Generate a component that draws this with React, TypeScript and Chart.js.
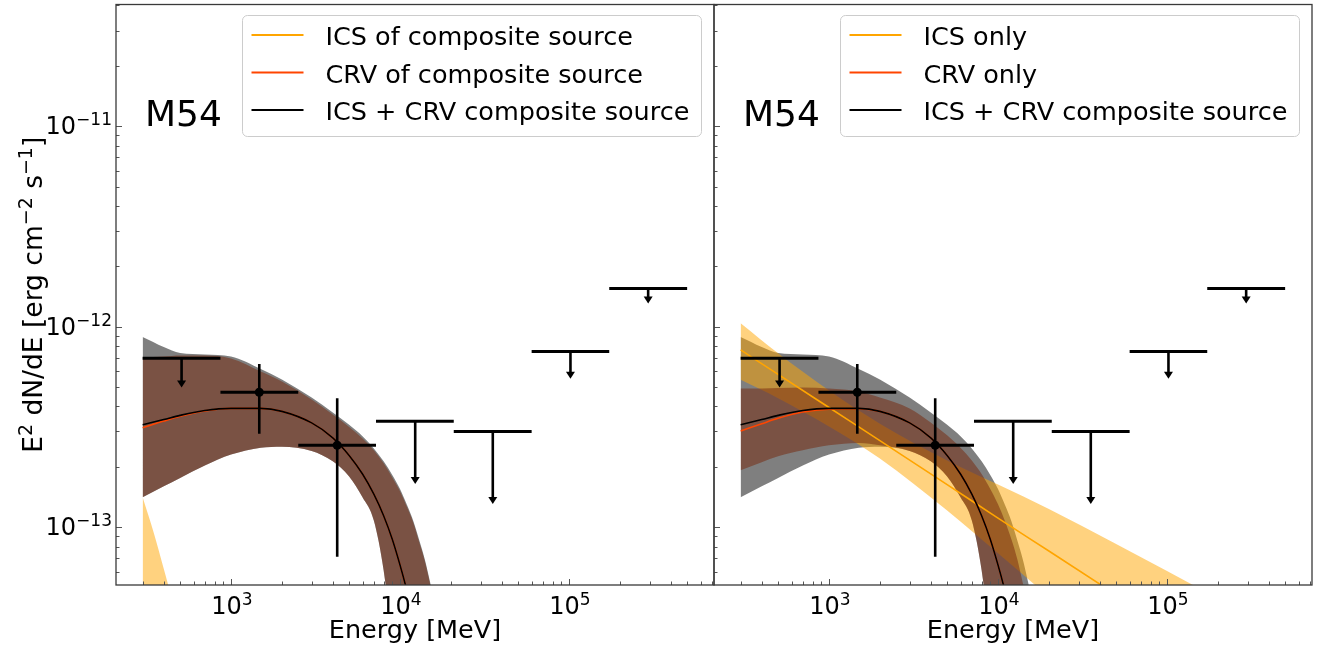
import React, { useEffect, useRef } from "react";
import { Chart, registerables } from "chart.js";

Chart.register(...registerables);

// ---------------- data ----------------
// energies (MeV) at which the CRV / composite model curves were read
const curveEnergy = [300, 400, 500, 700, 1000, 1500, 2000, 3000, 4000, 5000, 6000, 7000, 8000, 9000, 10000, 11000, 12000, 13000, 14000, 15000, 16000];

// ICS + CRV composite source (black line + grey band), same in both panels
const totalModel = [3.24e-13, 3.44e-13, 3.61e-13, 3.82e-13, 3.91e-13, 3.91e-13, 3.78e-13, 3.31e-13, 2.79e-13, 2.28e-13, 1.84e-13, 1.46e-13, 1.14e-13, 8.7e-14, 6.47e-14, 4.8e-14, 3.5e-14, 2.6e-14, 1.9e-14, 1.4e-14, 1.0e-14];
const totalUpper = [8.87e-13, 7.91e-13, 7.38e-13, 7.26e-13, 7.1e-13, 6.15e-13, 5.45e-13, 4.43e-13, 3.73e-13, 3.24e-13, 2.84e-13, 2.47e-13, 2.13e-13, 1.82e-13, 1.55e-13, 1.29e-13, 1.07e-13, 8.6e-14, 6.93e-14, 5.4e-14, 4.2e-14];
const totalLower = [1.41e-13, 1.6e-13, 1.76e-13, 2.03e-13, 2.3e-13, 2.49e-13, 2.52e-13, 2.4e-13, 2.13e-13, 1.79e-13, 1.41e-13, 1.08e-13, 6.1e-14, 2.7e-14, 1.2e-14, 6e-15, 3e-15, 1.5e-15, 8e-16, 4e-16, 2e-16];

// CRV of composite source (left panel)
const crvCompModel = [3.13e-13, 3.38e-13, 3.57e-13, 3.8e-13, 3.91e-13, 3.91e-13, 3.78e-13, 3.31e-13, 2.79e-13, 2.28e-13, 1.84e-13, 1.46e-13, 1.14e-13, 8.7e-14, 6.47e-14, 4.8e-14, 3.5e-14, 2.6e-14, 1.9e-14, 1.4e-14, 1.0e-14];
const crvCompUpper = [7.01e-13, 7.09e-13, 7.17e-13, 7.17e-13, 6.93e-13, 5.97e-13, 5.33e-13, 4.33e-13, 3.65e-13, 3.16e-13, 2.77e-13, 2.42e-13, 2.08e-13, 1.77e-13, 1.51e-13, 1.26e-13, 1.05e-13, 8.4e-14, 6.8e-14, 5.3e-14, 4.1e-14];
const crvCompLower = [1.41e-13, 1.6e-13, 1.76e-13, 2.03e-13, 2.3e-13, 2.49e-13, 2.52e-13, 2.4e-13, 2.13e-13, 1.79e-13, 1.41e-13, 1.08e-13, 6.1e-14, 2.7e-14, 1.2e-14, 6e-15, 3e-15, 1.5e-15, 8e-16, 4e-16, 2e-16];

// ICS of composite source (left panel, only the low-energy tail is visible)
const icsCompEnergy = [300, 350, 400, 450, 500];
const icsCompModel = [4.0e-14, 2.5e-14, 1.6e-14, 1.05e-14, 7e-15];
const icsCompUpper = [1.41e-13, 9.3e-14, 6.2e-14, 4.3e-14, 3.1e-14];
const icsCompLower = [1.2e-14, 6.5e-15, 3.8e-15, 2.3e-15, 1.5e-15];

// CRV only (right panel)
const crvOnlyModel = [3.02e-13, 3.28e-13, 3.49e-13, 3.75e-13, 3.88e-13, 3.9e-13, 3.78e-13, 3.31e-13, 2.79e-13, 2.28e-13, 1.84e-13, 1.46e-13, 1.14e-13, 8.7e-14, 6.47e-14, 4.8e-14, 3.5e-14, 2.6e-14, 1.9e-14, 1.4e-14, 1.0e-14];
const crvOnlyUpper = [4.91e-13, 4.91e-13, 4.94e-13, 4.97e-13, 4.91e-13, 4.75e-13, 4.43e-13, 3.91e-13, 3.33e-13, 2.87e-13, 2.49e-13, 2.15e-13, 1.84e-13, 1.55e-13, 1.3e-13, 1.07e-13, 8.7e-14, 6.93e-14, 5.3e-14, 4.2e-14, 3.3e-14];
const crvOnlyLower = [1.92e-13, 2.11e-13, 2.26e-13, 2.42e-13, 2.56e-13, 2.63e-13, 2.56e-13, 2.4e-13, 2.13e-13, 1.79e-13, 1.41e-13, 1.08e-13, 6.1e-14, 2.7e-14, 1.2e-14, 6e-15, 3e-15, 1.5e-15, 8e-16, 4e-16, 2e-16];

// ICS only (right panel)
const icsOnlyEnergy = [300, 500, 1000, 2000, 5000, 10000, 20000, 50000, 100000, 200000, 500000];
const icsOnlyModel = [7.66e-13, 5.78e-13, 3.95e-13, 2.7e-13, 1.63e-13, 1.11e-13, 7.6e-14, 4.6e-14, 3.14e-14, 2.14e-14, 1.3e-14];
const icsOnlyUpper = [1.04e-12, 7.36e-13, 4.8e-13, 3.28e-13, 2.15e-13, 1.63e-13, 1.23e-13, 8.25e-14, 6.04e-14, 4.41e-14, 2.9e-14];
const icsOnlyLower = [5.43e-13, 4.4e-13, 3.18e-13, 2.2e-13, 1.21e-13, 7.4e-14, 4.5e-14, 2.4e-14, 1.55e-14, 9.8e-15, 5.5e-15];

// Fermi-LAT SED bins
const binLow = [300, 866, 2500, 7210, 20800, 60100, 173000];
const binHigh = [866, 2500, 7210, 20800, 60100, 173000, 500000];
const binCenter = [510, 1470, 4250, 12300, 35400, 102000, 294000];
const fluxValue = [6.96e-13, 4.71e-13, 2.56e-13, 3.37e-13, 3.0e-13, 7.51e-13, 1.55e-12];
const fluxLow = [5.03e-13, 2.92e-13, 7.12e-14, 1.66e-13, 1.32e-13, 5.56e-13, 1.32e-12];
const fluxHigh = [6.96e-13, 6.52e-13, 4.4e-13, 3.37e-13, 3.0e-13, 7.51e-13, 1.55e-12];
const isUpperLimit = [true, false, false, true, true, true, true];

// axes
const xRange = [208.7, 721000];
const yRange = [5.145e-14, 4.045e-11];
const xTickValues = [1e3, 1e4, 1e5];
const xTickExponents = ["3", "4", "5"];
const yTickValues = [1e-11, 1e-12, 1e-13];
const yTickExponents = ["\u221211", "\u221212", "\u221213"];

const sourceName = "M54";
const legendLeft = ["ICS of composite source", "CRV of composite source", "ICS + CRV composite source"];
const legendRight = ["ICS only", "CRV only", "ICS + CRV composite source"];

// ---------------- styling ----------------
const W = 1322;
const H = 650;
const FONT = '"DejaVu Sans", sans-serif';
const C_ICS = "#ffa500";
const C_CRV = "#ff4500";
const C_TOT = "#000000";
const F_TOT = "rgba(0,0,0,0.5)";
const F_ICS = "rgba(255,165,0,0.5)";
const F_CRV = "rgba(118,38,10,0.5)";

type Panel = {
  key: string;
  padLeft: number;
  padRight: number;
  yLabels: boolean;
  legend: string[];
  icsE: number[];
  icsM: number[];
  icsU: number[];
  icsL: number[];
  crvM: number[];
  crvU: number[];
  crvL: number[];
};

const pts = (xs: number[], ys: number[]) => xs.map((x, i) => ({ x, y: ys[i] }));

function bandPair(xs: number[], hi: number[], lo: number[], color: string, order: number) {
  const common = {
    borderColor: "rgba(0,0,0,0)",
    borderWidth: 0,
    pointRadius: 0,
    pointHoverRadius: 0,
    order,
    cubicInterpolationMode: "monotone",
    clip: 0,
  };
  return [
    { ...common, data: pts(xs, hi), fill: "+1", backgroundColor: color },
    { ...common, data: pts(xs, lo), fill: false, backgroundColor: color },
  ];
}

function lineDs(xs: number[], ys: number[], color: string, order: number) {
  return {
    data: pts(xs, ys),
    borderColor: color,
    borderWidth: 1.6,
    pointRadius: 0,
    pointHoverRadius: 0,
    fill: false,
    order,
    cubicInterpolationMode: "monotone",
    clip: 0,
  };
}

function drawRich(ctx: CanvasRenderingContext2D, parts: [string, boolean][], x: number, y: number, size: number, measureOnly = false) {
  let cx = x;
  for (const [t, sup] of parts) {
    ctx.font = `${sup ? Math.round(size * 0.7) : size}px ${FONT}`;
    if (!measureOnly) ctx.fillText(t, cx, sup ? y - size * 0.38 : y);
    cx += ctx.measureText(t).width;
  }
  return cx - x;
}

function decorPlugin(p: Panel) {
  return {
    id: "decor" + p.key,
    afterDatasetsDraw(chart: any) {
      const ctx: CanvasRenderingContext2D = chart.ctx;
      const xs = chart.scales.x;
      const ys = chart.scales.y;
      const a = chart.chartArea;
      ctx.save();
      ctx.beginPath();
      ctx.rect(a.left, a.top, a.right - a.left, a.bottom - a.top);
      ctx.clip();
      ctx.strokeStyle = "#000";
      ctx.fillStyle = "#000";
      ctx.lineCap = "butt";
      for (let i = 0; i < binCenter.length; i++) {
        const xl = xs.getPixelForValue(binLow[i]);
        const xh = xs.getPixelForValue(binHigh[i]);
        const xc = xs.getPixelForValue(binCenter[i]);
        const y = ys.getPixelForValue(fluxValue[i]);
        ctx.lineWidth = 3;
        ctx.beginPath();
        ctx.moveTo(xl, y);
        ctx.lineTo(xh, y);
        ctx.stroke();
        if (isUpperLimit[i]) {
          const yt = ys.getPixelForValue(fluxLow[i]);
          ctx.lineWidth = 2.6;
          ctx.beginPath();
          ctx.moveTo(xc, y);
          ctx.lineTo(xc, yt - 4);
          ctx.stroke();
          ctx.beginPath();
          ctx.moveTo(xc - 4.5, yt - 6);
          ctx.lineTo(xc + 4.5, yt - 6);
          ctx.lineTo(xc, yt + 1);
          ctx.closePath();
          ctx.fill();
        } else {
          const y1 = ys.getPixelForValue(fluxHigh[i]);
          const y2 = ys.getPixelForValue(fluxLow[i]);
          ctx.lineWidth = 2.6;
          ctx.beginPath();
          ctx.moveTo(xc, y1);
          ctx.lineTo(xc, y2);
          ctx.stroke();
        }
      }
      ctx.restore();
    },
    afterDraw(chart: any) {
      const ctx: CanvasRenderingContext2D = chart.ctx;
      const xs = chart.scales.x;
      const ys = chart.scales.y;
      const a = chart.chartArea;
      ctx.save();
      // ticks (inward)
      ctx.strokeStyle = "#555";
      ctx.lineWidth = 1;
      for (let n = 2; n <= 6; n++) {
        for (let k = 1; k <= 9; k++) {
          const v = k * Math.pow(10, n);
          if (v < xRange[0] || v > xRange[1]) continue;
          const px = Math.round(xs.getPixelForValue(v)) + 0.5;
          const len = k === 1 ? 6 : 3.5;
          ctx.beginPath();
          ctx.moveTo(px, a.bottom);
          ctx.lineTo(px, a.bottom - len);
          ctx.stroke();
        }
      }
      for (let n = -14; n <= -11; n++) {
        for (let k = 1; k <= 9; k++) {
          const v = k * Math.pow(10, n);
          if (v < yRange[0] || v > yRange[1]) continue;
          const py = Math.round(ys.getPixelForValue(v)) + 0.5;
          const len = k === 1 ? 6 : 3.5;
          ctx.beginPath();
          ctx.moveTo(a.left, py);
          ctx.lineTo(a.left + len, py);
          ctx.stroke();
        }
      }
      // frame
      ctx.strokeStyle = "#3a3a3a";
      ctx.lineWidth = 1.3;
      ctx.strokeRect(a.left, a.top, a.right - a.left, a.bottom - a.top);

      ctx.fillStyle = "#000";
      ctx.textBaseline = "alphabetic";
      ctx.textAlign = "left";
      // x tick labels
      xTickValues.forEach((v, i) => {
        const px = xs.getPixelForValue(v);
        const parts: [string, boolean][] = [["10", false], [xTickExponents[i], true]];
        const w = drawRich(ctx, parts, 0, 0, 24, true);
        drawRich(ctx, parts, px - w / 2 + 1, 614, 24);
      });
      // y tick labels
      if (p.yLabels) {
        yTickValues.forEach((v, i) => {
          const py = ys.getPixelForValue(v);
          const parts: [string, boolean][] = [["10", false], [yTickExponents[i], true]];
          const w = drawRich(ctx, parts, 0, 0, 24, true);
          drawRich(ctx, parts, a.left - 4 - w, py + 8, 24);
        });
        // y axis title
        const tparts: [string, boolean][] = [
          ["E", false], ["2", true], [" dN/dE [erg cm", false], ["\u22122", true], [" s", false], ["\u22121", true], ["]", false],
        ];
        const tw = drawRich(ctx, tparts, 0, 0, 26.5, true);
        ctx.save();
        ctx.translate(42, (a.top + a.bottom) / 2);
        ctx.rotate(-Math.PI / 2);
        drawRich(ctx, tparts, -tw / 2, 0, 26.5);
        ctx.restore();
      }
      // x axis title
      ctx.font = `25.5px ${FONT}`;
      ctx.textAlign = "center";
      ctx.fillText("Energy [MeV]", (a.left + a.right) / 2, 638);
      // source name
      ctx.textAlign = "left";
      ctx.font = `36px ${FONT}`;
      ctx.fillText(sourceName, a.left + 29, 126);
      // legend
      const bx = a.left + 126.5;
      const by = 15.5;
      const bw = 459;
      const bh = 121;
      ctx.fillStyle = "rgba(255,255,255,0.8)";
      ctx.strokeStyle = "#cccccc";
      ctx.lineWidth = 1;
      ctx.beginPath();
      (ctx as any).roundRect(bx, by, bw, bh, 5);
      ctx.fill();
      ctx.stroke();
      const colors = [C_ICS, C_CRV, C_TOT];
      p.legend.forEach((label, i) => {
        const base = 45 + 37.5 * i;
        ctx.strokeStyle = colors[i];
        ctx.lineWidth = 2;
        ctx.beginPath();
        ctx.moveTo(bx + 9, base - 10);
        ctx.lineTo(bx + 61, base - 10);
        ctx.stroke();
        ctx.fillStyle = "#000";
        ctx.font = `25.5px ${FONT}`;
        ctx.fillText(label, bx + 83, base);
      });
      ctx.restore();
    },
  };
}

function makeConfig(p: Panel): any {
  const datasets: any[] = [
    ...bandPair(curveEnergy, totalUpper, totalLower, F_TOT, 9),
    ...bandPair(p.icsE, p.icsU, p.icsL, F_ICS, 8),
    ...bandPair(curveEnergy, p.crvU, p.crvL, F_CRV, 7),
    lineDs(p.icsE, p.icsM, C_ICS, 3),
    lineDs(curveEnergy, p.crvM, C_CRV, 2),
    lineDs(curveEnergy, totalModel, C_TOT, 1),
    {
      data: binCenter.map((x, i) => ({ x, y: fluxValue[i] })).filter((_, i) => !isUpperLimit[i]),
      showLine: false,
      pointRadius: 4.5,
      pointBackgroundColor: "#000",
      pointBorderColor: "#000",
      pointBorderWidth: 0,
      fill: false,
      order: 0,
    },
  ];
  return {
    type: "line",
    data: { datasets },
    options: {
      animation: false,
      responsive: false,
      devicePixelRatio: 1,
      events: [],
      layout: { padding: { left: p.padLeft, right: p.padRight, top: 3, bottom: 65 } },
      plugins: { legend: { display: false }, tooltip: { enabled: false }, title: { display: false } },
      scales: {
        x: { type: "logarithmic", min: xRange[0], max: xRange[1], display: false },
        y: { type: "logarithmic", min: yRange[0], max: yRange[1], display: false },
      },
    },
    plugins: [decorPlugin(p)],
  };
}

const LEFT: Panel = {
  key: "L",
  padLeft: 116,
  padRight: W - 714,
  yLabels: true,
  legend: legendLeft,
  icsE: icsCompEnergy,
  icsM: icsCompModel,
  icsU: icsCompUpper,
  icsL: icsCompLower,
  crvM: crvCompModel,
  crvU: crvCompUpper,
  crvL: crvCompLower,
};

const RIGHT: Panel = {
  key: "R",
  padLeft: 714,
  padRight: W - 1312,
  yLabels: false,
  legend: legendRight,
  icsE: icsOnlyEnergy,
  icsM: icsOnlyModel,
  icsU: icsOnlyUpper,
  icsL: icsOnlyLower,
  crvM: crvOnlyModel,
  crvU: crvOnlyUpper,
  crvL: crvOnlyLower,
};

export default function App() {
  const leftRef = useRef<HTMLCanvasElement>(null);
  const rightRef = useRef<HTMLCanvasElement>(null);
  useEffect(() => {
    const c1 = new Chart(leftRef.current as HTMLCanvasElement, makeConfig(LEFT));
    const c2 = new Chart(rightRef.current as HTMLCanvasElement, makeConfig(RIGHT));
    return () => {
      c1.destroy();
      c2.destroy();
    };
  }, []);
  return (
    <div style={{ position: "absolute", left: 0, top: 0, width: W, height: H, background: "#fff" }}>
      <canvas ref={leftRef} width={W} height={H} style={{ position: "absolute", left: 0, top: 0 }} />
      <canvas ref={rightRef} width={W} height={H} style={{ position: "absolute", left: 0, top: 0 }} />
    </div>
  );
}
